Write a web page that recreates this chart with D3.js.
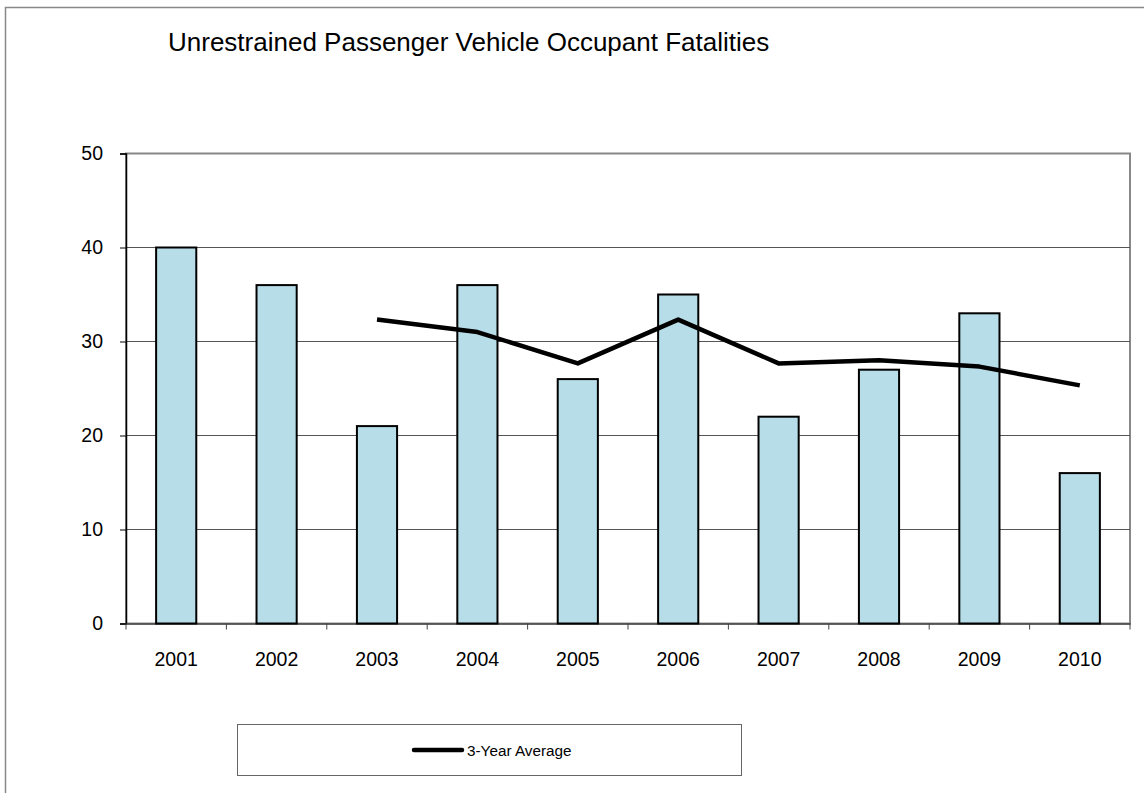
<!DOCTYPE html>
<html>
<head>
<meta charset="utf-8">
<script src="https://cdn.jsdelivr.net/npm/d3@7"></script>
<style>
  body { margin: 0; background: #fff; }
  text { font-family: "Liberation Sans", Arial, sans-serif; fill: #000; }
</style>
</head>
<body>
<div id="chart"></div>
<script>
// data
const years = ["2001", "2002", "2003", "2004", "2005", "2006", "2007", "2008", "2009", "2010"];
const fatalities = [40, 36, 21, 36, 26, 35, 22, 27, 33, 16];
const avgYears = ["2003", "2004", "2005", "2006", "2007", "2008", "2009", "2010"];
const threeYearAvg = [32.33, 31, 27.67, 32.33, 27.67, 28, 27.33, 25.33];
const yTicks = [0, 10, 20, 30, 40, 50];

const width = 1144, height = 793;
const plot = { left: 126, right: 1130, top: 153.5, bottom: 623.5 };

const svg = d3.select("#chart").append("svg")
  .attr("width", width)
  .attr("height", height);

// outer frame
svg.append("rect")
  .attr("x", 5.5).attr("y", 7.5)
  .attr("width", 1160).attr("height", 800)
  .attr("fill", "none").attr("stroke", "#888").attr("stroke-width", 1.5);

svg.append("text")
  .attr("x", 168).attr("y", 51)
  .attr("font-size", 26)
  .text("Unrestrained Passenger Vehicle Occupant Fatalities");

const x = d3.scaleBand().domain(years).range([plot.left, plot.right]).paddingInner(0.6).paddingOuter(0.3);
const y = d3.scaleLinear().domain([0, 50]).range([plot.bottom, plot.top]);

// plot frame (top, right)
svg.append("rect")
  .attr("x", plot.left).attr("y", plot.top)
  .attr("width", plot.right - plot.left).attr("height", plot.bottom - plot.top)
  .attr("fill", "none").attr("stroke", "#888").attr("stroke-width", 2);

// gridlines
svg.append("g").selectAll("line")
  .data(yTicks.filter(d => d > 0 && d < 50))
  .join("line")
  .attr("x1", plot.left).attr("x2", plot.right)
  .attr("y1", d => y(d)).attr("y2", d => y(d))
  .attr("stroke", "#555").attr("stroke-width", 1);

// y axis
const yAxis = svg.append("g")
  .attr("transform", `translate(${plot.left},0)`)
  .call(d3.axisLeft(y).tickValues(yTicks).tickSize(6).tickPadding(17));
yAxis.select(".domain").attr("stroke", "#000").attr("stroke-width", 1.5);
yAxis.selectAll(".tick line").attr("stroke", "#000");
yAxis.selectAll("text").attr("font-size", 19.5).attr("font-family", "Liberation Sans, Arial, sans-serif");

// x axis with ticks on category boundaries
const xb = d3.scaleBand().domain(years).range([plot.left, plot.right]);
const xAxis = svg.append("g")
  .attr("transform", `translate(0,${plot.bottom})`)
  .call(d3.axisBottom(xb).tickSize(0).tickPadding(29));
xAxis.select(".domain").attr("stroke", "#444").attr("stroke-width", 1.5);
xAxis.selectAll("text").attr("font-size", 19.5).attr("font-family", "Liberation Sans, Arial, sans-serif");
svg.append("g").selectAll("line")
  .data(years.concat(["end"]))
  .join("line")
  .attr("x1", (d, i) => plot.left + i * xb.step())
  .attr("x2", (d, i) => plot.left + i * xb.step())
  .attr("y1", plot.bottom).attr("y2", plot.bottom + 6)
  .attr("stroke", "#444").attr("stroke-width", 1);

// bars
svg.append("g").selectAll("rect")
  .data(years.map((yr, i) => ({ yr, v: fatalities[i] })))
  .join("rect")
  .attr("x", d => x(d.yr))
  .attr("y", d => y(d.v))
  .attr("width", x.bandwidth())
  .attr("height", d => y(0) - y(d.v))
  .attr("fill", "#b7dde8")
  .attr("stroke", "#000")
  .attr("stroke-width", 2);

// 3-year average line
const line = d3.line()
  .x(d => xb(d.yr) + xb.bandwidth() / 2)
  .y(d => y(d.v));
svg.append("path")
  .datum(avgYears.map((yr, i) => ({ yr, v: threeYearAvg[i] })))
  .attr("d", line)
  .attr("fill", "none")
  .attr("stroke", "#000")
  .attr("stroke-width", 4.5)
  .attr("stroke-linejoin", "round");

// legend
svg.append("rect")
  .attr("x", 237.5).attr("y", 724.5)
  .attr("width", 504).attr("height", 51)
  .attr("fill", "#fff").attr("stroke", "#666").attr("stroke-width", 1);
svg.append("line")
  .attr("x1", 414).attr("x2", 462)
  .attr("y1", 750).attr("y2", 750)
  .attr("stroke", "#000").attr("stroke-width", 4.5).attr("stroke-linecap", "round");
svg.append("text")
  .attr("x", 467).attr("y", 755.5)
  .attr("font-size", 15.3)
  .text("3-Year Average");
</script>
</body>
</html>
